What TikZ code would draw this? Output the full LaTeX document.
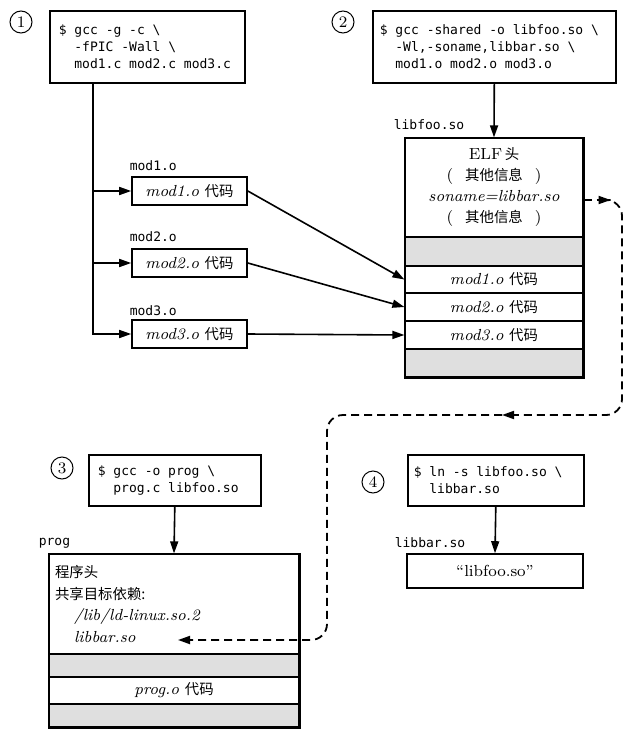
\documentclass[tikz,border=0pt]{standalone}
\usepackage{fontspec}
\setmonofont{DejaVu Sans Mono}
\newfontfamily\cjk[Scale=0.9]{Noto Sans CJK SC}
\usepackage{tikz}
\usetikzlibrary{arrows.meta}

\newcommand{\daima}{{\cjk 代码}}
\newcommand{\bsl}{\textbackslash}
\newcommand{\indt}{\hspace*{7.8pt}}
\newcommand{\cmdfont}{\ttfamily\fontsize{6.5}{8.5}\selectfont}
% mono spacing (align=left makes spaces narrow)
\newcommand{\monosp}{\spaceskip=\fontcharwd\font`0\relax\xspaceskip=\spaceskip}
\newcommand{\qita}{(\hspace{6pt}{\cjk 其他信息}\hspace{6pt})}

\tikzset{
  cmdbox/.style={draw, line width=0.8pt, anchor=north west, align=left, inner ysep=0pt,
    font=\cmdfont},
  objbox/.style={draw, line width=0.8pt, minimum width=57.5pt, minimum height=14pt,
    inner sep=0pt, font=\fontsize{8}{9}\selectfont},
  seg/.style={draw, line width=0.6pt, inner sep=0pt, font=\fontsize{8}{9}\selectfont},
  grayseg/.style={seg, fill=gray!25},
  fname/.style={anchor=west, inner sep=0pt, font=\cmdfont},
  stepnum/.style={circle, draw, line width=0.5pt, minimum size=11pt, inner sep=0pt,
    font=\fontsize{8}{8}\selectfont},
  dashline/.style={line width=0.9pt, dash pattern=on 4pt off 2.5pt}
}

\begin{document}
\begin{tikzpicture}[x=0.5pt, y=-0.5pt, line width=0.8pt,
    >={Triangle[length=6pt,width=4pt]}]
    \useasboundingbox (0,0) rectangle (631,733);

    %%% STEP 1 %%%
    \node[stepnum] (num1) at (21,22) {1};
    \node[cmdbox, minimum width=97.5pt, minimum height=36pt, text width=88.5pt, inner xsep=4.5pt] (cmd1) at (49,10)
        {\monosp\$ gcc -g -c \bsl\\ \indt -fPIC -Wall \bsl\\ \indt mod1.c mod2.c mod3.c};

    \node[fname] (lblmod1) at (129,166) {mod1.o};
    \node[fname] (lblmod2) at (129,237) {mod2.o};
    \node[fname] (lblmod3) at (129,311) {mod3.o};
    \node[objbox] (mod1) at (189.5,191) {\textit{mod1.o}\ \daima};
    \node[objbox] (mod2) at (189.5,263) {\textit{mod2.o}\ \daima};
    \node[objbox] (mod3) at (189.5,334) {\textit{mod3.o}\ \daima};

    \coordinate (trunk) at ([xshift=22pt]cmd1.south west);
    \draw[->] (trunk) |- (mod3.west);
    \draw[->] (trunk |- mod1.west) -- (mod1.west);
    \draw[->] (trunk |- mod2.west) -- (mod2.west);

    %%% STEP 2 %%%
    \node[stepnum] (num2) at (343,22) {2};
    \node[cmdbox, minimum width=121.5pt, minimum height=36pt, text width=114.5pt, inner xsep=3.5pt] (cmd2) at (372,10)
        {\monosp\$ gcc -shared -o libfoo.so \bsl\\ \indt -Wl,-soname,libbar.so \bsl\\ \indt mod1.o mod2.o mod3.o};

    \node[fname] (lblfoo) at (393,125) {libfoo.so};
    \node[seg, minimum width=89pt, minimum height=49.5pt, align=center, font=\fontsize{8}{10.5}\selectfont] (libhead) at (494,187.5)
        {ELF\,{\cjk 头}\\\qita\\\textit{soname=libbar.so}\\\qita};
    \node[grayseg, minimum width=89pt, minimum height=14.5pt] (libgap1) at (494,251.5) {};
    \node[seg, minimum width=89pt, minimum height=13.5pt] (libmod1) at (494,279.5) {\textit{mod1.o}\ \daima};
    \node[seg, minimum width=89pt, minimum height=14pt] (libmod2) at (494,307) {\textit{mod2.o}\ \daima};
    \node[seg, minimum width=89pt, minimum height=14pt] (libmod3) at (494,335) {\textit{mod3.o}\ \daima};
    \node[grayseg, minimum width=89pt, minimum height=14pt] (libgap2) at (494,363) {};
    \draw[line width=0.9pt] (libhead.north west) rectangle (libgap2.south east);

    \draw[->] (cmd2.south) -- (libhead.north);
    \draw[->] (mod1.east) -- (libmod1.west);
    \draw[->] (mod2.east) -- (libmod2.west);
    \draw[->] (mod3.east) -- (libmod3.west);

    %%% STEP 3 %%%
    \node[stepnum] (num3) at (62,468) {3};
    \node[cmdbox, minimum width=86pt, minimum height=25.5pt, text width=77pt, inner xsep=4.5pt] (cmd3) at (88,454)
        {\monosp\$ gcc -o prog \bsl\\ \indt prog.c libfoo.so};

    \node[fname] (lblprog) at (38,543) {prog};
    \node[seg, minimum width=125pt, minimum height=50pt, text width=119pt, inner xsep=3pt, align=left,
        font=\fontsize{8}{10.8}\selectfont] (proghead) at (174,604)
        {{\cjk 程序头}\\{\cjk 共享目标依赖:}\\\hspace*{9.5pt}\textit{/lib/ld-linux.so.2}\\\hspace*{9.5pt}\textit{libbar.so}};
    \node[grayseg, minimum width=125pt, minimum height=11.5pt] (proggap1) at (174,665.5) {};
    \node[seg, minimum width=125pt, minimum height=13.5pt] (progmain) at (174,690.5) {\textit{prog.o}\ \daima};
    \node[grayseg, minimum width=125pt, minimum height=11.5pt] (proggap2) at (174,715.5) {};
    \draw[line width=0.9pt] (proghead.north west) rectangle (proggap2.south east);

    \draw[->] (cmd3.south) -- (proghead.north);

    %%% STEP 4 %%%
    \node[stepnum] (num4) at (373,482) {4};
    \node[cmdbox, minimum width=88pt, minimum height=25.5pt, text width=82pt, inner xsep=3pt] (cmd4) at (407,454)
        {\monosp\$ ln -s libfoo.so \bsl\\ \indt libbar.so};

    \node[fname] (lblbar) at (394,543) {libbar.so};
    \node[draw, line width=0.8pt, minimum width=88pt, minimum height=17pt, inner sep=0pt,
        font=\fontsize{8}{9}\selectfont] (linkbox) at (495,571) {“libfoo.so”};

    \draw[->] (cmd4.south) -- (linkbox.north);

    %%% SONAME DEPENDENCY %%%
    \coordinate (sonameref) at ([yshift=-6.25pt]libhead.east);
    \coordinate (turn) at (502,415);
    \coordinate (deplib) at (178,640);
    \draw[dashline, ->] (sonameref) -- ++(27,0) coordinate (bend);
    \draw[dashline, rounded corners=8pt, ->] (bend) -- (622,200) -- (622,415) -- (turn);
    \draw[dashline, rounded corners=8pt, ->] (turn) -- (327,415) -- (327,640) -- (deplib);
\end{tikzpicture}
\end{document}
